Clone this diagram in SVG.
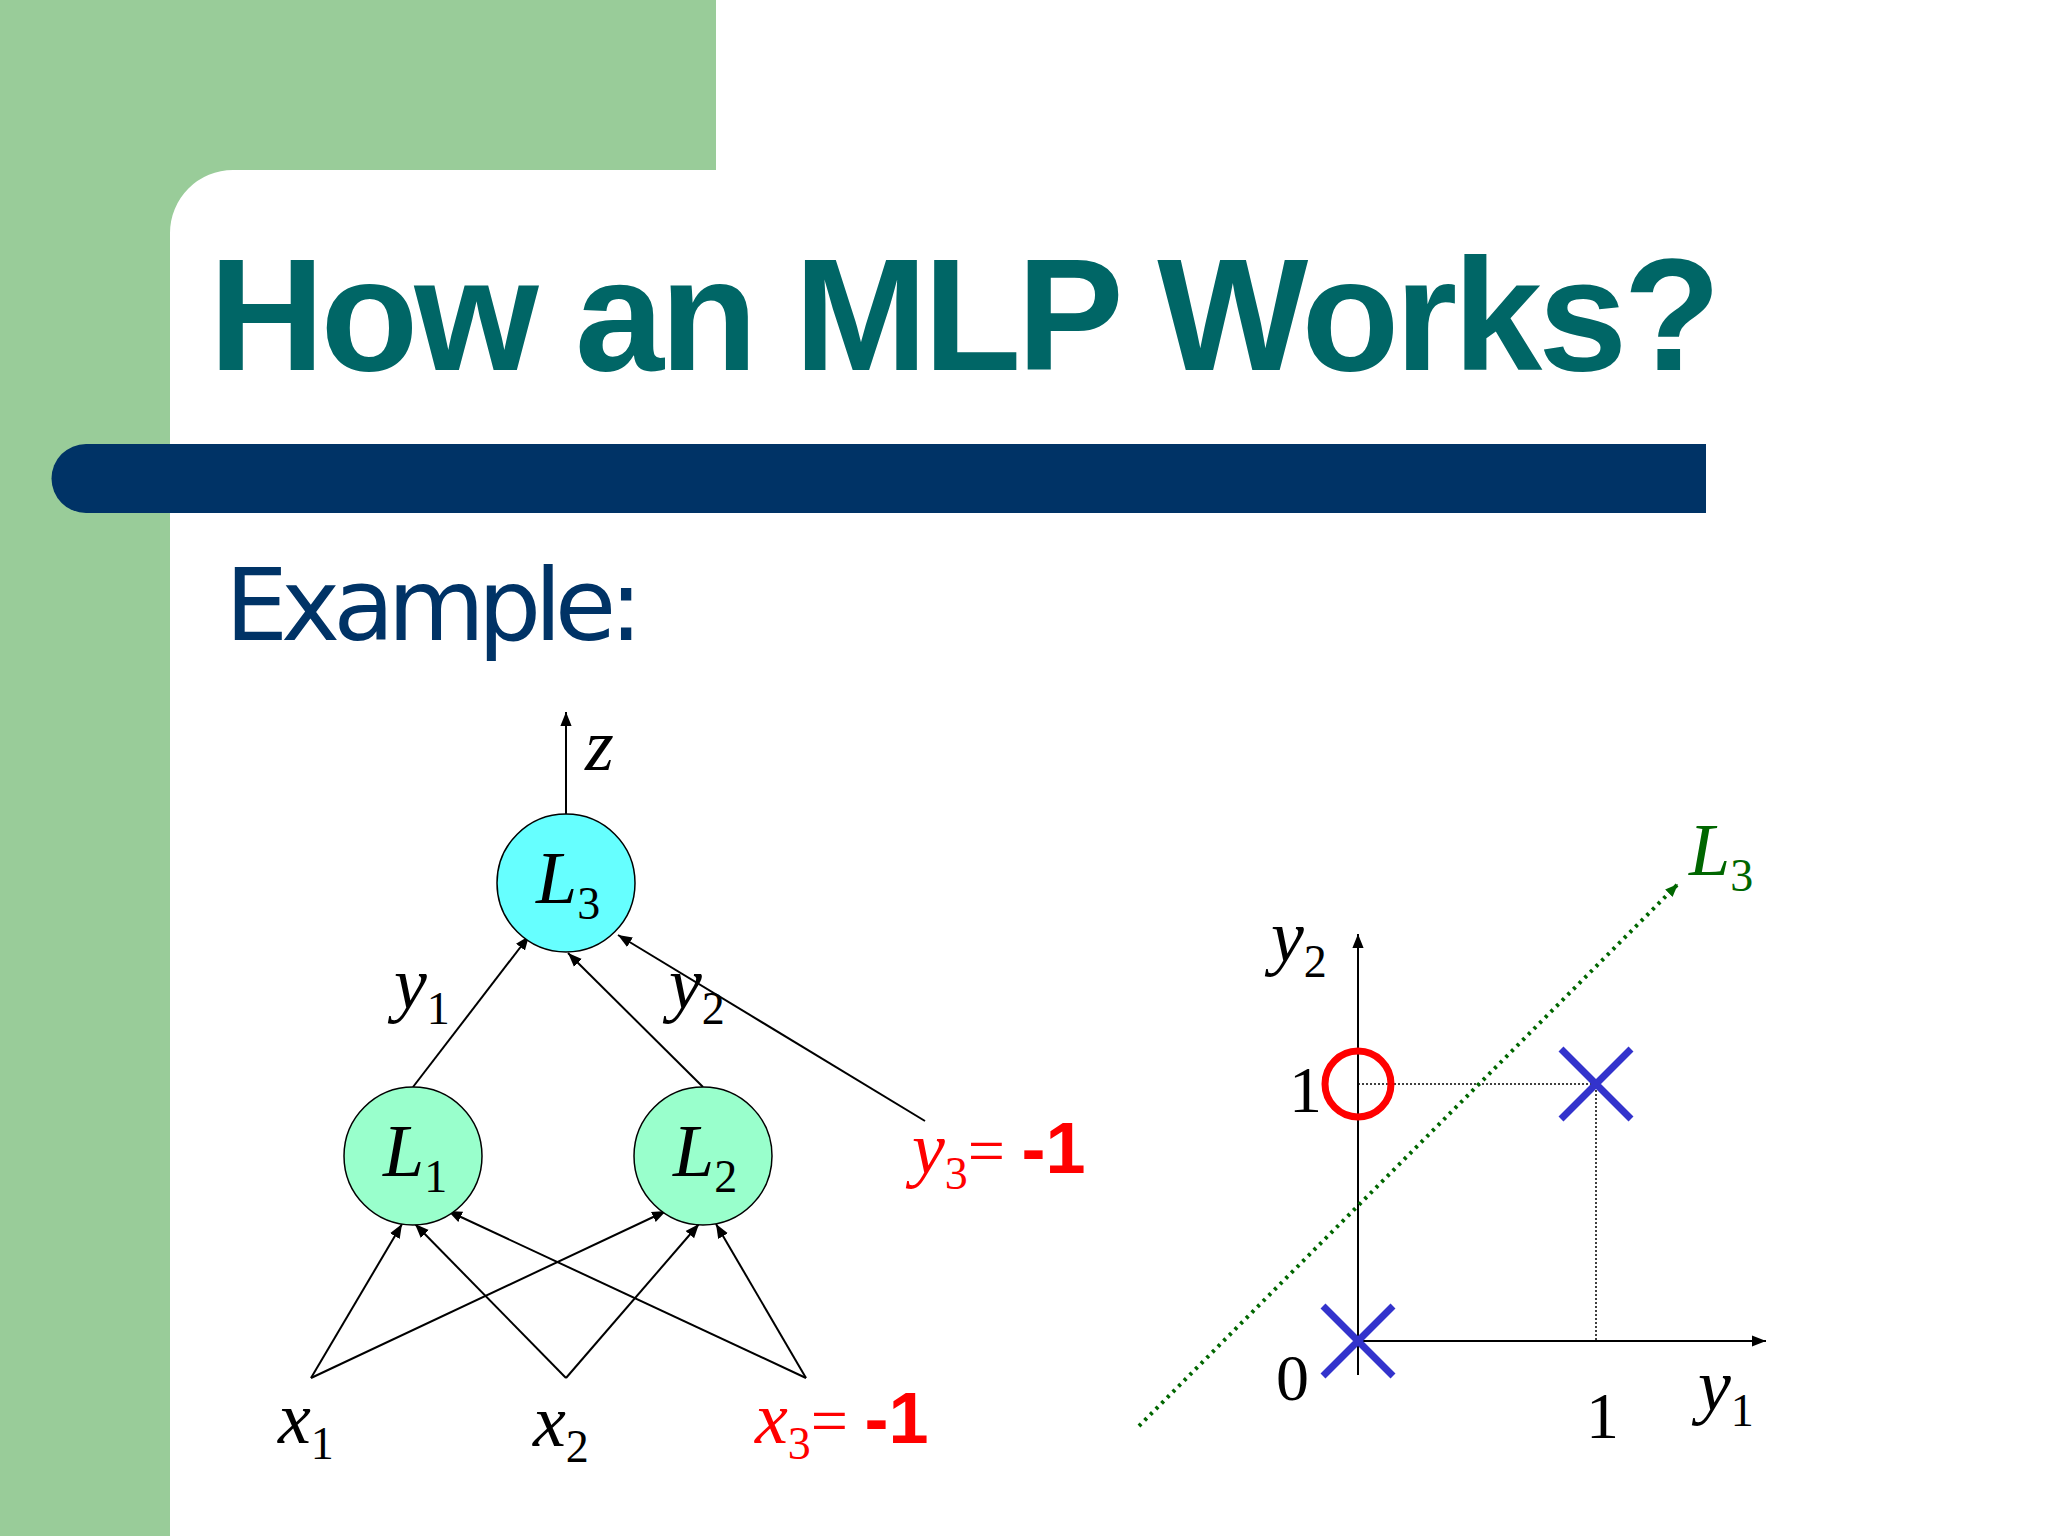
<svg xmlns="http://www.w3.org/2000/svg" width="2048" height="1536" viewBox="0 0 2048 1536">
<defs>
<marker id="ah" viewBox="0 0 10 10" refX="10" refY="5" markerWidth="14" markerHeight="14" markerUnits="userSpaceOnUse" orient="auto"><path d="M0,1 L10,5 L0,9 z" fill="#000"/></marker>
<marker id="ag" viewBox="0 0 10 10" refX="10" refY="5" markerWidth="13" markerHeight="13" markerUnits="userSpaceOnUse" orient="auto"><path d="M0,1 L10,5 L0,9 z" fill="#006600"/></marker>
<style>
.v{font-family:"Liberation Serif",serif;font-style:italic;font-size:74px}
.s{font-family:"Liberation Serif",serif;font-style:normal;font-size:46px}
.n{font-family:"Liberation Serif",serif;font-size:66px}
.m{font-family:"Liberation Sans",sans-serif;font-style:normal;font-size:72px;font-weight:bold}
.c{stroke:#000;stroke-width:2;fill:none}
.red{fill:#ff0000}
.node{stroke:#000;stroke-width:1.5}
</style>
</defs>
<rect width="2048" height="1536" fill="#fff"/>
<rect x="0" y="0" width="716" height="170" fill="#99cc99"/>
<rect x="0" y="0" width="170" height="1536" fill="#99cc99"/>
<path d="M170,170 L233,170 A63,63 0 0 0 170,233 Z" fill="#99cc99"/>
<text x="209" y="370" font-family="Liberation Sans, Arial, sans-serif" font-weight="bold" font-size="160" fill="#006666" textLength="1512">How an MLP Works?</text>
<path d="M86,444 L1706,444 L1706,513 L86,513 A34.5,34.5 0 0 1 86,444 Z" fill="#003366"/>
<text x="225" y="640" font-family="DejaVu Sans, sans-serif" font-size="100" fill="#003366" textLength="418">Example:</text>

<g id="connectors">
<line x1="566" y1="815" x2="566" y2="712" class="c" marker-end="url(#ah)"/>
<line x1="413" y1="1087" x2="529" y2="936" class="c" marker-end="url(#ah)"/>
<line x1="703" y1="1087" x2="568" y2="953" class="c" marker-end="url(#ah)"/>
<line x1="925" y1="1121" x2="618" y2="935" class="c" marker-end="url(#ah)"/>
<line x1="311" y1="1378" x2="402" y2="1224" class="c" marker-end="url(#ah)"/>
<line x1="311" y1="1378" x2="666" y2="1211" class="c" marker-end="url(#ah)"/>
<line x1="566" y1="1378" x2="415" y2="1224" class="c" marker-end="url(#ah)"/>
<line x1="566" y1="1378" x2="699" y2="1224" class="c" marker-end="url(#ah)"/>
<line x1="806" y1="1378" x2="448" y2="1211" class="c" marker-end="url(#ah)"/>
<line x1="806" y1="1378" x2="716" y2="1224" class="c" marker-end="url(#ah)"/>
</g>

<g id="L3"><circle cx="566" cy="883" r="69" fill="#66ffff" class="node"/><text x="536" y="903" class="v">L<tspan class="s" dy="16">3</tspan></text></g>
<g id="L1"><circle cx="413" cy="1156" r="69" fill="#99ffcc" class="node"/><text x="383" y="1176" class="v">L<tspan class="s" dy="16">1</tspan></text></g>
<g id="L2"><circle cx="703" cy="1156" r="69" fill="#99ffcc" class="node"/><text x="673" y="1176" class="v">L<tspan class="s" dy="16">2</tspan></text></g>

<text x="585" y="770" class="v">z</text>
<text x="394" y="1008" class="v">y<tspan class="s" dy="16">1</tspan></text>
<text x="669" y="1008" class="v">y<tspan class="s" dy="16">2</tspan></text>
<text x="912" y="1173" class="v red">y<tspan class="s" dy="16">3</tspan><tspan class="n" font-style="normal" dy="-16">= </tspan><tspan class="m">-1</tspan></text>
<text x="278" y="1443" class="v">x<tspan class="s" dy="16">1</tspan></text>
<text x="533" y="1446" class="v">x<tspan class="s" dy="16">2</tspan></text>
<text x="755" y="1443" class="v red">x<tspan class="s" dy="16">3</tspan><tspan class="n" font-style="normal" dy="-16">= </tspan><tspan class="m">-1</tspan></text>

<g id="plot">
<line x1="1358" y1="1341" x2="1358" y2="934" class="c" marker-end="url(#ah)"/>
<line x1="1358" y1="1341" x2="1766" y2="1341" class="c" marker-end="url(#ah)"/>
<line x1="1358" y1="1375" x2="1358" y2="1341" class="c"/>
<path d="M1358,1084 H1596 V1341" fill="none" stroke="#000" stroke-width="1.5" stroke-dasharray="2,2"/>
<line x1="1139" y1="1426" x2="1678" y2="884" stroke="#006600" stroke-width="4" stroke-dasharray="3,5" marker-end="url(#ag)"/>
<circle cx="1358" cy="1084" r="33" fill="none" stroke="#ff0000" stroke-width="7"/>
<path d="M1561,1049 L1631,1119 M1631,1049 L1561,1119" stroke="#3333cc" stroke-width="7"/>
<path d="M1323,1306 L1393,1376 M1393,1306 L1323,1376" stroke="#3333cc" stroke-width="7"/>
<text x="1689" y="875" class="v" fill="#006600">L<tspan class="s" dy="16">3</tspan></text>
<text x="1271" y="961" class="v">y<tspan class="s" dy="16">2</tspan></text>
<text x="1289" y="1112" class="n">1</text>
<text x="1276" y="1400" class="n">0</text>
<text x="1586" y="1438" class="n">1</text>
<text x="1698" y="1410" class="v">y<tspan class="s" dy="16">1</tspan></text>
</g>
</svg>
